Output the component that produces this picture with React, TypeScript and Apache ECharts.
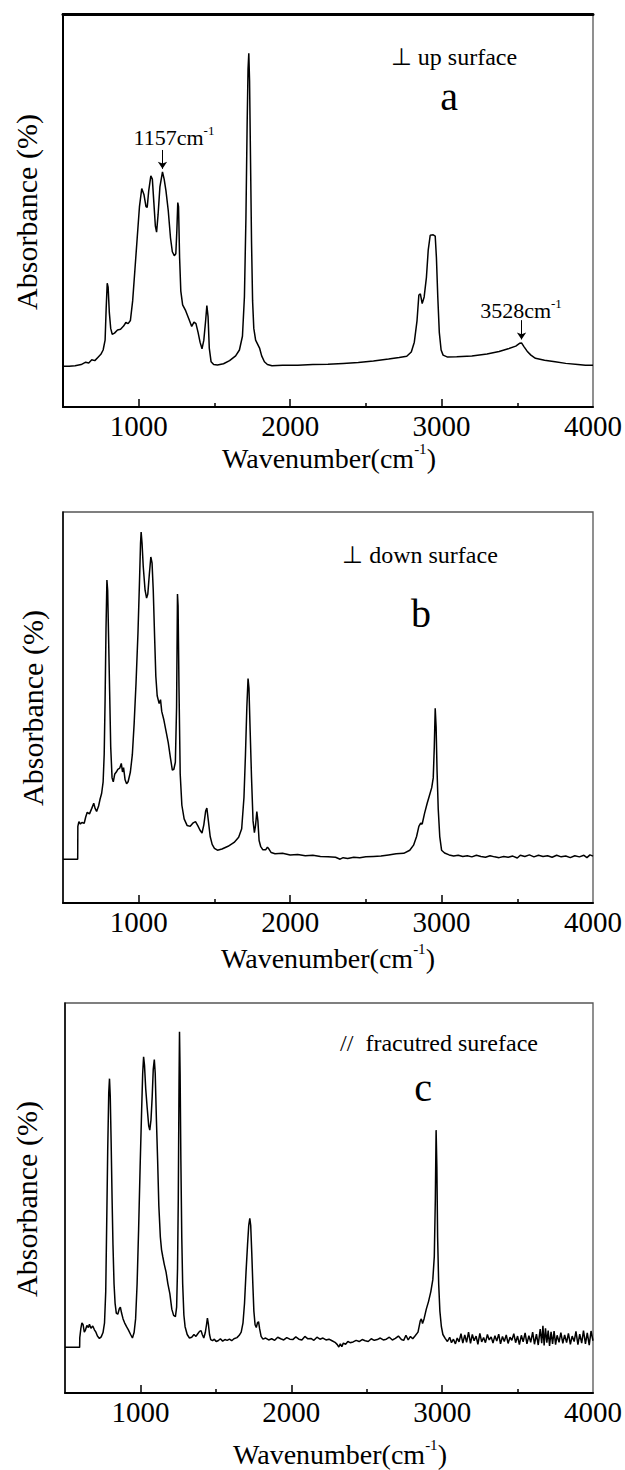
import React, { useEffect, useRef } from "react";
import * as echarts from "echarts";

const FONT = "'Liberation Serif','Times New Roman',Times,serif";

// axis ticks / labels (wavenumber, cm-1)
const xTickLabels = [1000, 2000, 3000, 4000];
const majorTicks = [1000, 2000, 3000];
const minorTicks = [1500, 2500, 3500];

// ---------- panel a : ⊥ up surface ----------
const wnA = [
  500, 540, 580, 620, 650, 670, 690, 710, 730, 750,
  765, 778, 785, 792, 798, 806, 815, 825, 840, 860,
  880, 900, 915, 930, 945, 960, 975, 990, 1005, 1020,
  1035, 1048, 1056, 1066, 1080, 1090, 1100, 1110, 1118, 1128,
  1140, 1157, 1168, 1180, 1195, 1210, 1222, 1235, 1245, 1252,
  1258, 1263, 1270, 1278, 1290, 1310, 1330, 1350, 1365, 1378,
  1392, 1405, 1418, 1430, 1442, 1450, 1458, 1466, 1478, 1495,
  1520, 1560, 1600, 1640, 1665, 1685, 1698, 1708, 1716, 1722,
  1727, 1732, 1738, 1745, 1752, 1760, 1772, 1785, 1798, 1812,
  1830, 1850, 1880, 1950, 2050, 2150, 2250, 2350, 2450, 2550,
  2650, 2720, 2770, 2800, 2820, 2838, 2850, 2860, 2872, 2885,
  2900, 2912, 2925, 2945, 2958, 2966, 2975, 2985, 2997, 3010,
  3040, 3100, 3200, 3300, 3380, 3440, 3490, 3515, 3528, 3545,
  3565, 3590, 3620, 3680, 3750, 3820, 3900, 3950, 4000,
];
const absA = [
  10.4, 10.4, 10.5, 10.8, 11.4, 11.2, 12.0, 11.8, 12.6, 13.4,
  14.5, 17, 25, 31.5, 30.5, 24, 20, 18.5, 18.8, 19.6,
  19.8, 20.6, 21.5, 21.2, 22, 27, 35, 43, 51, 55.6,
  54, 51, 50.8, 55, 58.8, 58, 52, 46, 44.5, 49,
  56, 59.8, 58, 55, 50, 43, 39.5, 38.5, 39, 45,
  52, 51, 38, 29.5, 26, 24.5, 22.5, 20.5, 21.6, 21.2,
  19, 16.5, 14.8, 17, 22, 25.8, 23, 15, 11.5, 10.8,
  10.7, 11, 11.8, 13, 14.5, 18, 28, 48, 72, 86,
  90, 83, 64, 42, 27, 20, 17, 16, 15, 13,
  11.5, 10.8, 10.5, 10.6, 10.6, 10.8, 10.9, 11.1, 11.3, 11.7,
  12.2, 12.6, 12.9, 14, 16.5, 22, 28.5, 28.8, 26.3, 28,
  33, 40, 43.7, 43.8, 43.5, 38, 28, 19, 14.5, 13.2,
  12.7, 12.8, 13, 13.5, 14.1, 14.8, 15.5, 16.2, 16.3, 15.3,
  14.2, 13.2, 12.4, 11.9, 11.5, 11.1, 10.8, 10.6, 10.6,
];

// ---------- panel b : ⊥ down surface ----------
const wnB = [
  500, 597, 598, 605, 615, 625, 640, 650, 660, 675,
  690, 703, 712, 722, 735, 745, 755, 765, 772, 778,
  784, 790, 795, 801, 808, 815, 824, 832, 842, 852,
  862, 875, 885, 893, 900, 910, 920, 930, 945, 958,
  970, 982, 995, 1005, 1012, 1016, 1022, 1030, 1042, 1052,
  1060, 1070, 1080, 1088, 1096, 1105, 1113, 1122, 1135, 1144,
  1152, 1165, 1180, 1195, 1210, 1222, 1232, 1242, 1250, 1256,
  1260, 1266, 1274, 1285, 1300, 1320, 1340, 1360, 1375, 1390,
  1405, 1418, 1430, 1442, 1450, 1460, 1472, 1485, 1500, 1520,
  1550, 1590, 1630, 1660, 1680, 1695, 1705, 1714, 1722, 1728,
  1736, 1745, 1755, 1764, 1772, 1780, 1787, 1795, 1805, 1820,
  1838, 1850, 1860, 1875, 1900, 1950, 2000, 2050, 2100, 2150,
  2200, 2250, 2300, 2330, 2350, 2380, 2420, 2460, 2500, 2550,
  2600, 2650, 2700, 2750, 2790, 2815, 2835, 2850, 2862, 2872,
  2888, 2905, 2920, 2935, 2945, 2952, 2958, 2964, 2970, 2978,
  2988, 3000, 3020, 3050, 3080, 3110, 3140, 3170, 3200, 3230,
  3260, 3290, 3320, 3350, 3380, 3410, 3440, 3470, 3500, 3520,
  3550, 3580, 3610, 3640, 3670, 3700, 3730, 3760, 3790, 3820,
  3850, 3880, 3910, 3940, 3960, 3980, 4000,
];
const absB = [
  11.2, 11.2, 19.6, 20.8, 20.2, 20.6, 20.4, 22, 23.2, 22.8,
  24.2, 25.5, 24.2, 23.4, 24.8, 26.6, 28, 31, 38, 52,
  70, 82.6, 80, 68, 54, 40, 32, 31, 33, 33.5,
  34.2, 34.5, 35.7, 33.5, 34.6, 31.5, 30.5, 31, 33.5, 38,
  46, 56, 69, 82, 92, 94.9, 92, 86, 80, 78,
  79, 84, 88.5, 87, 80, 68, 58, 53, 51, 52,
  49, 47, 44, 41, 37, 34, 34.2, 36, 50, 79,
  76, 55, 33, 25, 21.5, 19.8, 19.6, 20.5, 20.8, 19.8,
  18.6, 17.9, 20, 23.5, 24.3, 21, 17, 15, 14, 13.5,
  13.8, 14.5, 15.5, 16.8, 19, 27, 38, 50, 57.4, 55,
  44, 32, 21, 18, 20, 23.4, 21, 16, 14.5, 13.6,
  13.6, 14.3, 13.8, 12.9, 12.6, 12.7, 12.3, 12.4, 12.1, 12.2,
  11.9, 11.8, 11.7, 11.2, 11.6, 11.4, 11.7, 11.6, 11.8, 11.9,
  12, 12.3, 12.6, 12.7, 13.5, 14.8, 17, 19.6, 20.4, 20.2,
  23, 25.5, 27.5, 29.5, 32, 40, 49.8, 45, 34, 24,
  17, 13.5, 12.8, 12.3, 12.0, 12.2, 11.9, 12.1, 11.8, 12.2,
  11.9, 11.7, 12.1, 11.8, 11.6, 11.9, 11.7, 12.0, 11.5, 12.2,
  11.9, 12.3, 11.8, 12.2, 11.9, 12.1, 11.7, 12.2, 11.8, 12.0,
  11.6, 12.1, 11.8, 12.2, 11.6, 12.3, 12.0,
];

// ---------- panel c : // fractured surface ----------
const wnC = [
  500, 597, 598, 605, 612, 620, 628, 636, 645, 655,
  662, 672, 684, 695, 705, 715, 728, 740, 752, 762,
  770, 777, 783, 790, 795, 800, 806, 812, 818, 825,
  832, 840, 850, 860, 867, 875, 885, 895, 908, 920,
  935, 947, 958, 968, 978, 988, 998, 1008, 1015, 1021,
  1027, 1035, 1045, 1055, 1062, 1070, 1078, 1085, 1092, 1098,
  1106, 1114, 1122, 1132, 1140, 1148, 1158, 1170, 1182, 1195,
  1208, 1220, 1232, 1240, 1246, 1251, 1256, 1259, 1263, 1268,
  1274, 1280, 1288, 1296, 1310, 1325, 1340, 1355, 1368, 1380,
  1392, 1402, 1410, 1420, 1430, 1438, 1444, 1450, 1458, 1466,
  1478, 1490, 1502, 1515, 1530, 1545, 1560, 1575, 1590, 1605,
  1620, 1640, 1655, 1668, 1680, 1690, 1700, 1710, 1718, 1725,
  1731, 1738, 1745, 1752, 1760, 1768, 1776, 1783, 1790, 1800,
  1812, 1830, 1850, 1870, 1890, 1910, 1930, 1950, 1970, 1990,
  2010, 2030, 2050, 2070, 2090, 2110, 2130, 2150, 2170, 2190,
  2210, 2230, 2250, 2270, 2290, 2305, 2315, 2325, 2335, 2345,
  2360, 2375, 2390, 2410, 2430, 2450, 2470, 2490, 2510, 2530,
  2550, 2570, 2590, 2610, 2630, 2650, 2670, 2690, 2710, 2730,
  2745, 2760, 2775, 2790, 2805, 2820, 2840, 2855, 2862, 2870,
  2880, 2895, 2910, 2925, 2938, 2948, 2955, 2960, 2965, 2970,
  2977, 2985, 2995, 3005, 3020, 3035, 3050, 3062, 3075, 3088,
  3100, 3112, 3125, 3137, 3150, 3162, 3175, 3188, 3200, 3212,
  3225, 3237, 3250, 3262, 3275, 3287, 3300, 3312, 3325, 3337,
  3350, 3362, 3375, 3387, 3400, 3412, 3425, 3437, 3450, 3462,
  3475, 3487, 3500, 3512, 3525, 3537, 3550, 3562, 3575, 3587,
  3600, 3612, 3625, 3637, 3650, 3660, 3668, 3676, 3685, 3694,
  3703, 3712, 3722, 3732, 3742, 3752, 3762, 3775, 3787, 3800,
  3812, 3825, 3837, 3850, 3862, 3875, 3887, 3900, 3912, 3925,
  3937, 3950, 3962, 3975, 3987, 4000,
];
const absC = [
  11.7, 11.7, 14.2, 16.5, 18, 17.5, 15.6, 16.2, 17.3, 16.8,
  17.6, 16.6, 17.2, 16.2, 15.6, 14.6, 14, 14.4, 15.5, 18,
  26, 45, 62, 77, 80.6, 76, 64, 50, 38, 28,
  23, 20.5, 20.2, 21.6, 22, 20.5, 19, 18, 17, 16.2,
  15, 14.1, 15.5, 19, 28, 42, 58, 72.5, 82, 86.2,
  84, 78, 73, 68.5, 67.4, 70, 76, 83, 85.5, 82,
  70, 59.7, 48, 40, 36.7, 35, 33, 31, 28, 25.5,
  21.5, 19.9, 19.6, 22, 32, 50, 80, 92.6, 82, 60,
  40, 28, 20, 17, 15, 14.1, 14.3, 15, 14.5, 15.2,
  15.8, 16, 15, 14.1, 15.5, 17.5, 19.2, 17.8, 15, 13.7,
  13.4, 13.8, 13.2, 13.4, 13.9, 13.3, 13.7, 13.5, 13.8, 13.4,
  13.9, 14.2, 14.8, 15.6, 18, 23, 31, 38, 43, 44.8,
  43, 36, 28, 21, 17.5, 16.8, 18, 18.3, 16.5, 14.5,
  13.8, 14.1, 13.6, 13.9, 13.5, 14.3, 13.9, 13.6, 14.2, 13.8,
  13.7, 14.4, 13.8, 13.6, 14.5, 13.9, 14.0, 13.5, 14.3, 13.8,
  14.1, 13.6, 13.8, 13.4, 13.0, 12.4, 11.8, 12.6, 11.9, 12.8,
  12.5, 13.2, 12.9, 13.1, 13.5, 13.2, 13.7, 13.4, 13.2, 13.9,
  13.5, 13.7, 14.1, 13.6, 13.8, 14.3, 13.6, 14.0, 14.6, 13.7,
  13.5, 14.8, 13.6, 14.5, 13.9, 14.6, 15.6, 18.5, 19, 17.8,
  19, 21.5, 23.5, 26, 29, 35, 50, 67.4, 58, 40,
  28, 21, 17, 15, 14.0, 13.2, 14.3, 12.9, 13.8, 12.6,
  14.1, 13.1, 15.2, 12.8, 14.9, 13.0, 15.6, 12.7, 15.0, 13.4,
  14.6, 12.5, 15.3, 13.1, 14.2, 12.9, 15.0, 13.6, 14.4, 12.8,
  14.7, 13.3, 15.1, 12.6, 14.5, 13.2, 14.9, 12.7, 14.3, 13.5,
  15.2, 12.9, 14.6, 12.4, 14.8, 13.1, 15.4, 12.6, 14.7, 13.0,
  15.6, 12.5, 15.1, 12.3, 16.4, 12.8, 17.2, 12.2, 16.6, 12.9,
  16.0, 12.1, 15.7, 12.6, 15.9, 12.4, 14.8, 13.0, 15.5, 12.7,
  14.9, 12.9, 15.3, 12.5, 14.6, 13.2, 15.8, 12.4, 15.1, 12.8,
  16.0, 12.6, 15.4, 12.3, 15.9, 13.4,
];

// annotated peaks in panel a: [wavenumber, arrow start, arrow tip]
const arrowPeaks = [
  [1157, 65.4, 60.6],
  [3528, 22.1, 17.2],
];

const zip = (xs: number[], ys: number[]) => xs.map((x, i) => [x, ys[i]]);

const grids = [
  { left: 63, top: 14, width: 531, height: 393 },
  { left: 63, top: 512, width: 531, height: 391 },
  { left: 65, top: 1003, width: 529, height: 390 },
];

function bottomAxes(gridIndex: number) {
  const base = {
    type: "value",
    gridIndex,
    min: 500,
    max: 4000,
    position: "bottom",
    splitLine: { show: false },
  };
  return [
    {
      ...base,
      axisLine: { show: true, onZero: false, lineStyle: { color: "#000", width: 2 } },
      axisTick: {
        show: true,
        inside: true,
        length: 8,
        customValues: majorTicks,
        lineStyle: { color: "#000", width: 1.5 },
      },
      axisLabel: {
        show: true,
        customValues: xTickLabels,
        formatter: (v: number) => String(v),
        margin: 4,
        color: "#000",
        fontSize: 29,
        fontFamily: FONT,
      },
    },
    {
      ...base,
      axisLine: { show: false },
      axisTick: {
        show: true,
        inside: true,
        length: 4,
        customValues: minorTicks,
        lineStyle: { color: "#000", width: 1.5 },
      },
      axisLabel: { show: false },
    },
  ];
}

function txt(text: string, x: number, y: number, size: number, extra: any = {}) {
  return {
    type: "text",
    x,
    y,
    ...extra,
    style: {
      text,
      fill: "#000",
      font: `${size}px ${FONT}`,
      fontSize: size,
      fontFamily: FONT,
      align: "center",
      verticalAlign: "middle",
    },
  };
}

function supText(main: string, sup: string, x: number, y: number, size: number, supSize: number, tail = "") {
  return {
    type: "text",
    x,
    y,
    style: {
      text: `{m|${main}}{s|${sup}}` + (tail ? `{m|${tail}}` : ""),
      fill: "#000",
      align: "center",
      verticalAlign: "middle",
      rich: {
        m: { fontSize: size, fontFamily: FONT, fill: "#000", lineHeight: size * 1.15 },
        s: { fontSize: supSize, fontFamily: FONT, fill: "#000", verticalAlign: "top", lineHeight: supSize * 1.1 },
      },
    },
  };
}

const lineStyle = { color: "#000", width: 1.5 };

const option: any = {
  animation: false,
  backgroundColor: "#fff",
  grid: grids.map((g) => ({
    ...g,
    show: true,
    borderColor: "#555",
    borderWidth: 1.3,
    containLabel: false,
  })),
  xAxis: [
    ...bottomAxes(0),
    {
      type: "value",
      gridIndex: 0,
      min: 500,
      max: 4000,
      position: "top",
      axisLine: { show: true, lineStyle: { color: "#000", width: 3 } },
      axisTick: { show: false },
      axisLabel: { show: false },
      splitLine: { show: false },
    },
    ...bottomAxes(1),
    ...bottomAxes(2),
  ],
  yAxis: [0, 1, 2].map((gi) => ({
    type: "value",
    gridIndex: gi,
    min: 0,
    max: 100,
    axisLine: { show: true, onZero: false, lineStyle: { color: "#000", width: gi === 0 ? 2 : 1.5 } },
    axisTick: { show: false },
    axisLabel: { show: false },
    splitLine: { show: false },
  })),
  series: [
    {
      type: "line",
      xAxisIndex: 0,
      yAxisIndex: 0,
      data: zip(wnA, absA),
      showSymbol: false,
      symbol: "none",
      lineStyle,
      silent: true,
      markLine: {
        silent: true,
        symbol: ["none", "arrow"],
        symbolSize: 7,
        label: { show: false },
        lineStyle: { color: "#000", width: 1, type: "solid" },
        data: arrowPeaks.map(([wn, y0, y1]) => [{ coord: [wn, y0] }, { coord: [wn, y1] }]),
      },
    },
    {
      type: "line",
      xAxisIndex: 3,
      yAxisIndex: 1,
      data: zip(wnB, absB),
      showSymbol: false,
      symbol: "none",
      lineStyle,
      silent: true,
    },
    {
      type: "line",
      xAxisIndex: 5,
      yAxisIndex: 2,
      data: zip(wnC, absC),
      showSymbol: false,
      symbol: "none",
      lineStyle,
      silent: true,
    },
  ],
  graphic: [
    // y-axis names
    txt("Absorbance (%)", 26, 212, 30, { rotation: Math.PI / 2 }),
    txt("Absorbance (%)", 32, 708, 30, { rotation: Math.PI / 2 }),
    txt("Absorbance (%)", 26, 1199, 30, { rotation: Math.PI / 2 }),
    // x-axis names
    supText("Wavenumber(cm", "-1", 329, 458, 28, 15, ")"),
    supText("Wavenumber(cm", "-1", 328, 958, 28, 15, ")"),
    supText("Wavenumber(cm", "-1", 340, 1454, 28, 15, ")"),
    // panel a
    txt("⊥ up surface", 454, 57, 24),
    txt("a", 449, 96, 40),
    supText("1157cm", "-1", 174, 137, 22, 13),
    supText("3528cm", "-1", 521, 310, 22, 13),
    // panel b
    txt("⊥ down surface", 420, 555, 24),
    txt("b", 421, 613, 40),
    // panel c
    txt("//  fracutred sureface", 439, 1043, 24),
    txt("c", 423, 1087, 40),
  ],
};

export default function App() {
  const ref = useRef<HTMLDivElement>(null);
  useEffect(() => {
    document.body.style.margin = "0";
    const chart = echarts.init(ref.current!, null, { renderer: "svg" });
    chart.setOption(option);
    return () => chart.dispose();
  }, []);
  return <div ref={ref} style={{ width: 625, height: 1470 }} />;
}
